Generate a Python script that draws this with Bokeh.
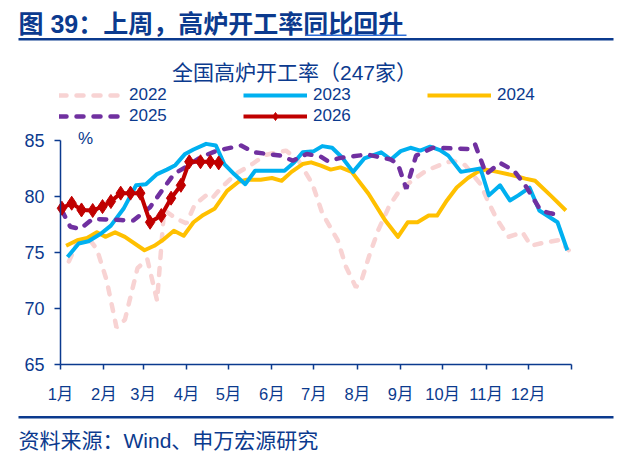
from bokeh.plotting import figure
from bokeh.models import Range1d, FixedTicker, Label, Legend, LegendItem, BoxAnnotation
from bokeh.embed import file_html
from bokeh.resources import INLINE

# ---------------- data (day of year, value %) ----------------
month_starts = [0, 31, 59, 90, 120, 151, 181, 212, 243, 273, 304, 334, 365]
month_labels = ["1月", "2月", "3月", "4月", "5月", "6月", "7月", "8月", "9月", "10月", "11月", "12月", ""]
y_ticks = [65, 70, 75, 80, 85]

d22 = [6, 12, 21, 26, 33, 40, 46, 55, 62, 69, 74, 83, 90, 96, 104, 108, 115, 125, 137, 146,
       161, 170, 180, 187, 198, 204, 211, 215, 221, 227, 235, 242, 251, 261, 273, 280, 289, 300,
       306, 312, 320, 330, 336, 346, 356, 363]
v22 = [74.2, 75.9, 76.1, 75.3, 72.5, 68.3, 69.0, 73.6, 74.4, 70.7, 78.8, 78.0, 77.6, 79.3, 80.1,
       79.8, 80.8, 82.0, 82.9, 83.7, 84.1, 83.2, 81.1, 78.5, 76.1, 73.7, 71.9, 72.5, 74.9, 77.0,
       79.2, 80.5, 81.4, 82.3, 82.9, 83.2, 82.8, 81.1, 79.4, 77.9, 76.4, 76.8, 75.6, 75.9, 76.1, 75.2]

d23 = [5, 13, 20, 29, 36, 45, 54, 61, 69, 76, 82, 89, 95, 104, 111, 117, 124, 132, 139, 148,
       160, 167, 173, 181, 187, 194, 201, 209, 217, 229, 236, 243, 250, 257, 264, 271, 277, 286,
       300, 306, 314, 321, 327, 335, 342, 355, 362]
v23 = [74.6, 75.8, 76.0, 76.7, 77.4, 78.9, 81.0, 81.1, 82.0, 82.4, 82.8, 83.8, 84.2, 84.7, 84.55,
       82.9, 82.0, 81.1, 82.3, 82.3, 82.3, 83.05, 83.95, 84.05, 84.5, 84.35, 83.5, 82.2, 83.4,
       83.95, 83.3, 84.05, 84.35, 84.1, 84.45, 84.15, 83.65, 82.2, 82.5, 80.1, 81.0, 79.65, 80.1,
       80.8, 78.75, 77.7, 75.2]

d24 = [4, 12, 19, 26, 32, 39, 46, 60, 67, 74, 81, 88, 95, 102, 110, 119, 127, 133, 143, 151,
       158, 165, 173, 179, 186, 193, 200, 208, 220, 232, 241, 248, 255, 263, 269, 276, 283, 291,
       298, 304, 312, 323, 332, 339, 350, 361]
v24 = [75.6, 76.1, 76.3, 76.8, 76.4, 76.8, 76.4, 75.2, 75.6, 76.2, 76.95, 76.5, 77.7, 78.35, 78.9,
       80.5, 81.3, 81.5, 81.5, 81.65, 81.4, 82.2, 82.9, 83.05, 82.75, 82.4, 82.6, 82.2, 80.25,
       77.85, 76.4, 77.7, 77.7, 78.3, 78.3, 79.65, 80.8, 81.65, 82.2, 82.4, 82.2, 81.9, 81.6,
       81.4, 80.1, 78.75]

d25 = [1, 7, 14, 23, 43, 52, 64, 74, 81, 89, 100, 112, 129, 138, 148, 157, 166, 176, 186, 191,
       200, 219, 236, 241, 247, 254, 266, 291, 296, 304, 314, 324, 333, 343, 350, 358]
v25 = [78.75, 77.3, 77.1, 78.0, 77.9, 77.85, 79.05, 80.8, 82.0, 82.6, 83.5, 84.1, 84.55, 83.95,
       83.8, 83.65, 83.2, 83.8, 83.55, 83.15, 83.45, 83.75, 83.3, 82.9, 80.7, 83.65, 84.35, 84.25,
       84.7, 82.0, 83.0, 82.3, 80.8, 78.75, 78.5, 78.3]

d26 = [1, 8, 15, 23, 30, 36, 43, 50, 57, 64, 72, 79, 86, 92, 100, 107, 113]
v26 = [78.95, 79.4, 78.8, 78.75, 79.1, 79.55, 80.3, 80.3, 80.3, 77.7, 78.3, 79.85, 81.0, 83.1,
       83.1, 83.1, 83.0]

# ---------------- styling ----------------
NAVY = "#0B3A8E"
FONT = "Liberation Sans, Noto Sans CJK SC"
PINK = "#F8D3D3"
CYAN = "#00B0F0"
YELLOW = "#FFC000"
PURPLE = "#7030A0"
RED = "#C00000"

W, H = 620, 463
# plot area: day 0 -> px 60, day 365 -> px 571 ; 85 -> px 140, 65 -> px 364
PX_DAY = (571 - 60) / 365.0
PX_UNIT = (364 - 140) / 20.0
x0 = 0 - 60 / PX_DAY
x1 = 365 + (W - 571) / PX_DAY
y0 = 65 - (H - 364) / PX_UNIT
y1 = 85 + 140 / PX_UNIT

p = figure(width=W, height=H, output_backend="svg", toolbar_location=None,
           x_range=Range1d(x0, x1), y_range=Range1d(y0, y1), min_border=0)
p.title.visible = False
p.outline_line_color = None
p.xgrid.visible = False
p.ygrid.visible = False
p.background_fill_color = "white"
p.border_fill_color = "white"

r22 = p.line(d22, v22, line_color=PINK, line_width=4.5, line_dash="7 10", line_cap="round")
r24 = p.line(d24, v24, line_color=YELLOW, line_width=4, line_join="round")
r23 = p.line(d23, v23, line_color=CYAN, line_width=4, line_join="round")
r25 = p.line(d25, v25, line_color=PURPLE, line_width=4.5, line_dash="7 10", line_cap="round")
r26 = p.line(d26, v26, line_color=RED, line_width=4, line_join="round")
r26m = p.scatter(d26, v26, marker="diamond", size=14, color=RED)

# axes (drawn at fixed data locations inside the canvas)
for ax in (p.xaxis[0], p.yaxis[0]):
    ax.axis_line_color = NAVY
    ax.axis_line_width = 1.5
    ax.major_tick_line_color = NAVY
    ax.major_tick_line_width = 1.5
    ax.minor_tick_line_color = None
    ax.major_tick_in = 0
    ax.major_label_text_color = NAVY
    ax.major_label_text_font = FONT

p.xaxis.fixed_location = 65
p.xaxis.bounds = (0, 365)
p.xaxis.ticker = FixedTicker(ticks=month_starts)
p.xaxis.major_label_overrides = {t: lab for t, lab in zip(month_starts, month_labels)}
p.xaxis.major_tick_out = 5
p.xaxis.major_label_standoff = 15
p.xaxis.major_label_text_font_size = "16.5px"

p.yaxis.fixed_location = 0
p.yaxis.bounds = (65, 85)
p.yaxis.ticker = FixedTicker(ticks=y_ticks)
p.yaxis.major_tick_out = 6
p.yaxis.major_label_standoff = 10
p.yaxis.major_label_text_font_size = "18px"

# legend
legend = Legend(items=[
    LegendItem(label="2022", renderers=[r22]),
    LegendItem(label="2023", renderers=[r23]),
    LegendItem(label="2024", renderers=[r24]),
    LegendItem(label="2025", renderers=[r25]),
    LegendItem(label="2026", renderers=[r26, r26m]),
], location=(59, H - 126), orientation="horizontal", ncols=3,
    glyph_width=64, glyph_height=20, label_height=20, label_width=113,
    label_standoff=6, spacing=1, padding=0, margin=0,
    border_line_color=None, background_fill_alpha=0,
    label_text_font=FONT, label_text_font_size="17px", label_text_color=NAVY)
p.add_layout(legend, "center")

# texts (screen units: x from canvas left, y from canvas bottom)
p.add_layout(Label(x=18, y=H - 23, x_units="screen", y_units="screen",
                   text="图 39：上周，高炉开工率同比回升", text_font=FONT, text_font_size="25px",
                   text_font_style="bold", text_color=NAVY, text_baseline="middle"))
p.add_layout(Label(x=294, y=H - 72, x_units="screen", y_units="screen",
                   text="全国高炉开工率（247家）", text_font=FONT, text_font_size="21px",
                   text_color=NAVY, text_align="center", text_baseline="middle"))
p.add_layout(Label(x=85, y=H - 138, x_units="screen", y_units="screen",
                   text="%", text_font=FONT, text_font_size="17px",
                   text_color=NAVY, text_align="center", text_baseline="middle"))
p.add_layout(Label(x=18, y=H - 440, x_units="screen", y_units="screen",
                   text="资料来源：Wind、申万宏源研究", text_font=FONT, text_font_size="21px",
                   text_color=NAVY, text_baseline="middle"))

# rules
def rule(l, r, top_px, bottom_px, color):
    p.add_layout(BoxAnnotation(left=l, right=r, bottom=H - bottom_px, top=H - top_px,
                               left_units="screen", right_units="screen",
                               bottom_units="screen", top_units="screen",
                               fill_color=color, fill_alpha=1, line_color=None))

rule(18, 613, 37.5, 40, NAVY)
rule(305, 406, 34, 35.5, "#2F6FD8")
rule(18, 613, 415.5, 418, NAVY)

open("out.html", "w").write(file_html(p, INLINE))
